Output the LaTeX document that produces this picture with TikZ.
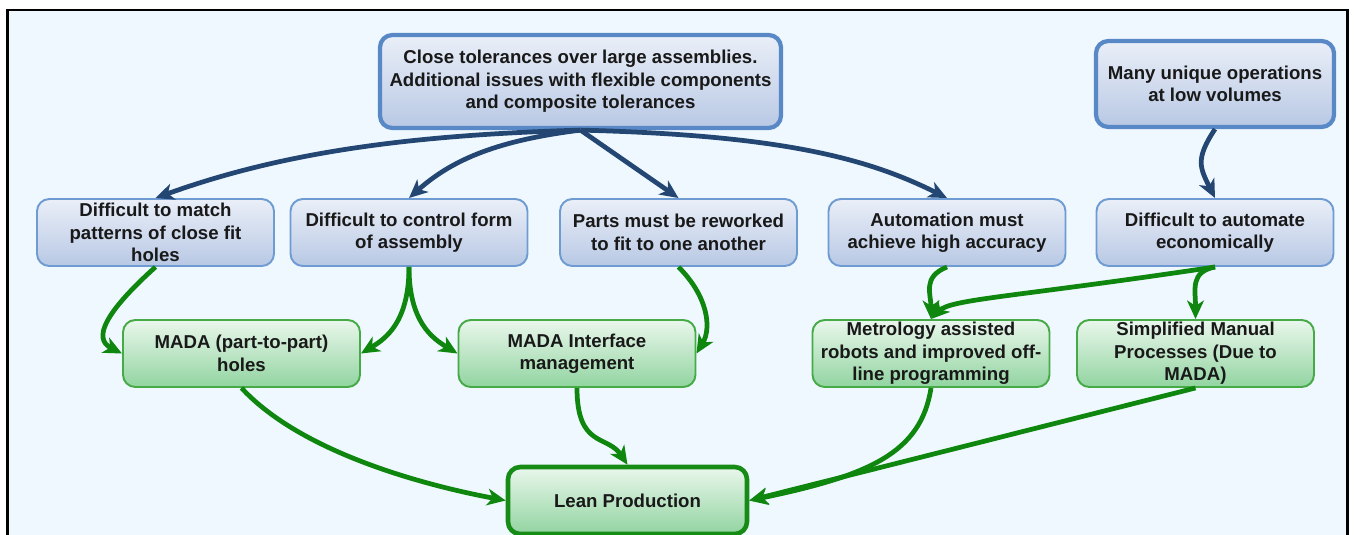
\documentclass[tikz,border=0pt]{standalone}
\usepackage{fontspec}
\setmainfont{Liberation Sans}
\usetikzlibrary{arrows.meta}

\definecolor{paper}{RGB}{239,248,255}
\definecolor{boxblue}{RGB}{110,155,210}
\definecolor{rootblue}{RGB}{88,137,198}
\definecolor{bluetop}{RGB}{234,239,248}
\definecolor{bluebot}{RGB}{184,200,228}
\definecolor{boxgreen}{RGB}{70,170,70}
\definecolor{greentop}{RGB}{234,247,236}
\definecolor{greenbot}{RGB}{145,212,160}
\definecolor{goalgreen}{RGB}{22,140,22}
\definecolor{navy}{RGB}{35,70,115}
\definecolor{leafgreen}{RGB}{15,135,15}

\begin{document}
\begin{tikzpicture}[line width=2.7pt,
  box/.style={rounded corners=7pt,align=center,inner sep=0pt,
    font=\fontsize{10.6}{12.8}\selectfont\bfseries,text=black!90},
  issue/.style={box,draw=boxblue,line width=1.1pt,top color=bluetop,
    bottom color=bluebot,minimum width=4.74cm,minimum height=1.34cm},
  root/.style={issue,draw=rootblue,line width=2.4pt},
  fix/.style={box,draw=boxgreen,line width=1.1pt,top color=greentop,
    bottom color=greenbot,minimum width=4.74cm,minimum height=1.34cm},
  goal/.style={fix,draw=goalgreen,line width=2.6pt},
  cause/.style={navy,-{Stealth[length=10.5pt,width=9.5pt,inset=3pt]}},
  lead/.style={leafgreen,-{Stealth[length=10.5pt,width=9.5pt,inset=3pt]}}]
  \fill[white] (0,0) rectangle (27.08,-10.68);
  \useasboundingbox (0,0) rectangle (27.08,-10.68);
  \clip (0,0) rectangle (27.08,-10.68);
  \filldraw[fill=paper,draw=black,line width=1.5pt] (0.15,-0.2) rectangle (26.95,-11);

  \node[root,minimum width=8.02cm,minimum height=1.86cm] (tol) at (11.61,-1.63)
    {Close tolerances over large assemblies.\\Additional issues with flexible components\\and composite tolerances};
  \node[root,minimum width=4.76cm,minimum height=1.72cm] (ops) at (24.3,-1.68)
    {Many unique operations\\at low volumes};

  \node[issue] (match) at (3.11,-4.65) {Difficult to match\\patterns of close fit\\holes};
  \node[issue] (form) at (8.18,-4.65) {Difficult to control form\\of assembly};
  \node[issue] (rework) at (13.57,-4.65) {Parts must be reworked\\to fit to one another};
  \node[issue] (accur) at (18.94,-4.65) {Automation must\\achieve high accuracy};
  \node[issue] (econ) at (24.3,-4.65) {Difficult to automate\\economically};

  \node[fix] (holes) at (4.83,-7.07) {MADA (part-to-part)\\holes};
  \node[fix] (iface) at (11.54,-7.07) {MADA Interface\\management};
  \node[fix] (robots) at (18.62,-7.07) {Metrology assisted\\robots and improved off-\\line programming};
  \node[fix] (manual) at (23.91,-7.07) {Simplified Manual\\Processes (Due to\\MADA)};
  \node[goal,minimum width=4.78cm] (lean) at (12.55,-10.01) {Lean Production};

  % problems
  \draw[cause] (tol.south) .. controls +(-3.5,-0.1) and +(2.5,0.9) .. (match.north);
  \draw[cause] (tol.south) .. controls +(-1.6,-0.2) and +(0.9,0.8) .. (form.north);
  \draw[cause] (tol.south) -- (rework.north);
  \draw[cause] (tol.south) .. controls +(4,-0.1) and +(-1.6,0.8) .. (accur.north);
  \draw[cause] (ops.south) .. controls +(-0.4,-0.6) and +(-0.3,0.6) .. (econ.north);

  % remedies
  \draw[lead] (match.south) .. controls +(-1,-0.9) and +(-0.6,0.3) .. (holes.west);
  \draw[lead] (form.south) .. controls +(0,-1.1) and +(0.5,0.3) .. (holes.east);
  \draw[lead] (form.south) .. controls +(0,-1.1) and +(-0.5,0.3) .. (iface.west);
  \draw[lead] (rework.south) .. controls +(0.6,-0.6) and +(0.3,0.5) .. (iface.east);
  \draw[lead] (accur.south) .. controls +(-0.5,-0.2) and +(0,0.5) .. (robots.north);
  \draw[lead] (econ.south) .. controls +(-4,-0.6) and +(0.4,0.4) .. (robots.north);
  \draw[lead] (econ.south) .. controls +(-0.5,-0.1) and +(0,0.6) .. (manual.north);

  % outcome
  \draw[lead] (holes.south) .. controls +(1.2,-1.3) and +(-1.6,0.3) .. (lean.west);
  \draw[lead] (iface.south) .. controls +(0,-1.2) and +(-0.4,0.6) .. (lean.north);
  \draw[lead] (robots.south) .. controls +(-0.2,-1.3) and +(2.4,0.5) .. (lean.east);
  \draw[lead] (manual.south) -- (lean.east);
\end{tikzpicture}
\end{document}
